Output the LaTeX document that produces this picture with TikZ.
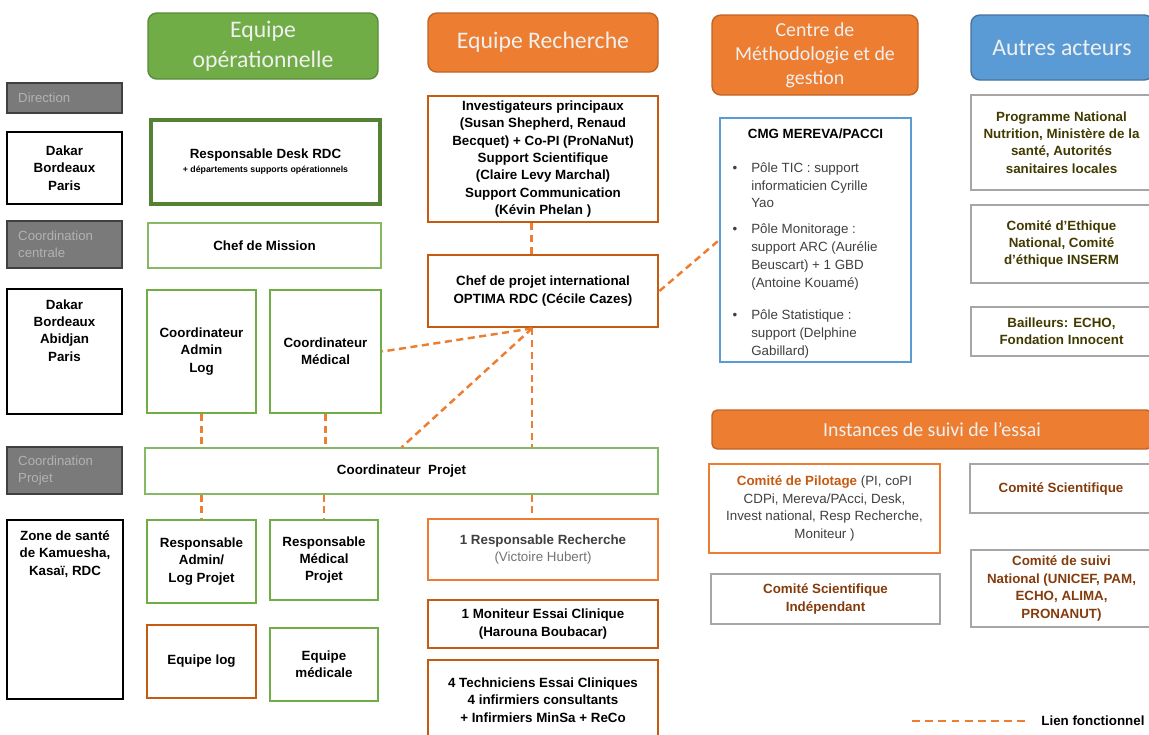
\documentclass[tikz,border=0pt]{standalone}
\usepackage{fontspec}
\setmainfont{Liberation Sans}
\newfontfamily\calibri{Carlito}
\usepackage{tikz}
\usetikzlibrary{calc}
\definecolor{vert}{HTML}{70AD47}
\definecolor{vertd}{HTML}{548235}
\definecolor{orng}{HTML}{ED7D31}
\definecolor{orngd}{HTML}{C55A11}
\definecolor{bleu}{HTML}{5B9BD5}
\definecolor{gris}{HTML}{A6A6A6}
\definecolor{texte}{HTML}{404040}
\definecolor{olv}{RGB}{66,58,0}
\definecolor{brun}{HTML}{843C0C}
\tikzset{
  body/.style   ={font=\fontsize{7.6}{9.9}\selectfont\bfseries,align=center,inner sep=2pt},
  plain/.style  ={font=\fontsize{7.6}{9.9}\selectfont,align=center,inner sep=2pt},
  hdr/.style    ={rounded corners=5pt,line width=0.8pt,text=white!94!black,align=center,
                  font=\calibri\fontsize{13.5}{17}\selectfont},
  grey/.style   ={draw=black!75,fill=black!52,text=black!30,line width=0.6pt,align=left,
                  font=\fontsize{7.5}{9.4}\selectfont,text width=1.85cm,inner xsep=0.225cm},
  site/.style   ={draw,line width=1.6pt,minimum width=2.3cm,body},
  opbox/.style  ={draw=vert,line width=1.4pt,body},
  opthin/.style ={draw=vert!85,line width=0.7pt,body},
  rbox/.style   ={draw=orngd,line width=1.6pt,minimum width=4.6cm,body},
  actbox/.style ={draw=gris,line width=1.6pt,minimum width=3.62cm,body,text=olv},
  comite/.style ={draw=gris,line width=1.3pt,body,text=brun},
  lien/.style   ={draw=orng,line width=1.4pt,dash pattern=on 4pt off 2.6pt},
}
\begin{document}
\begin{tikzpicture}
  \path[use as bounding box,fill=white] (0,0) rectangle (22.98,-14.68);
  % en-tetes
  \node[hdr,fill=vert,draw=vert!80!black,minimum width=4.6cm,minimum height=1.32cm] (hop) at (5.26,-0.92) {Equipe\\opérationnelle};
  \node[hdr,fill=orng,draw=orng!80!black,minimum width=4.6cm,minimum height=1.18cm] (hrech) at (10.86,-0.85) {Equipe Recherche};
  \node[hdr,fill=orng,draw=orng!80!black,minimum width=4.12cm,minimum height=1.6cm,
        font=\calibri\fontsize{11.3}{13.6}\selectfont] (hcmg) at (16.30,-1.10) {Centre de\\Méthodologie et de\\gestion};
  \node[hdr,fill=bleu,draw=bleu!75!black,minimum width=3.64cm,minimum height=1.3cm] (haut) at (21.24,-0.95) {Autres acteurs};
  \node[hdr,fill=orng,draw=orng!80!black,rounded corners=3pt,minimum width=8.8cm,minimum height=0.78cm,
        font=\calibri\fontsize{11.3}{13}\selectfont] (hinst) at (18.64,-8.59) {Instances de suivi de l’essai};

  % niveaux
  \node[grey,minimum height=0.6cm] (dir) at (1.29,-1.96) {Direction};
  \node[site,minimum height=1.44cm] (loc1) at (1.29,-3.36) {Dakar\\Bordeaux\\Paris};
  \node[grey,minimum height=0.94cm] (cc) at (1.29,-4.89) {Coordination\\centrale};
  \node[site,minimum height=2.5cm] (loc2) at (1.29,-7.03) {};
  \node[body,anchor=north] (loc2t) at ([yshift=-0.16cm]loc2.north) {Dakar\\Bordeaux\\Abidjan\\Paris};
  \node[grey,minimum height=0.94cm] (cp) at (1.29,-9.41) {Coordination\\Projet};
  \node[site,minimum width=2.32cm,minimum height=3.58cm] (loc3) at (1.30,-12.19) {};
  \node[body,anchor=north] (loc3t) at ([yshift=-0.16cm]loc3.north) {Zone de santé\\de Kamuesha,\\Kasaï, RDC};

  % equipe operationnelle
  \node[opbox,draw=vertd,line width=1.8pt,minimum width=4.58cm,minimum height=1.68cm] (desk) at (5.31,-3.24)
       {Responsable Desk RDC\\[-2pt]{\fontsize{5}{6}\selectfont + départements supports opérationnels}};
  \node[opthin,minimum width=4.66cm,minimum height=0.9cm] (chefm) at (5.29,-4.91) {Chef de Mission};
  \node[opbox,minimum width=2.18cm,minimum height=2.46cm] (coadm) at (4.03,-7.03) {Coordinateur\\Admin\\Log};
  \node[opbox,minimum width=2.22cm,minimum height=2.46cm] (comed) at (6.51,-7.03) {Coordinateur\\Médical};
  \node[opthin,minimum width=10.26cm,minimum height=0.92cm] (coproj) at (8.03,-9.42) {Coordinateur\ \ Projet};
  \node[opbox,minimum width=2.18cm,minimum height=1.66cm] (radm) at (4.03,-11.23) {Responsable\\Admin/\\Log Projet};
  \node[opbox,minimum width=2.16cm,minimum height=1.6cm] (rmed) at (6.48,-11.2) {Responsable\\Médical\\Projet};
  \node[opbox,draw=orngd,minimum width=2.18cm,minimum height=1.46cm] (elog) at (4.03,-13.23) {Equipe log};
  \node[opbox,minimum width=2.16cm,minimum height=1.46cm] (emed) at (6.48,-13.29) {Equipe\\médicale};

  % equipe recherche
  \node[rbox,minimum height=2.52cm] (inv) at (10.86,-3.18)
       {Investigateurs principaux\\(Susan Shepherd, Renaud\\Becquet) + Co-PI (ProNaNut)\\Support Scientifique\\(Claire Levy Marchal)\\Support Communication\\(Kévin Phelan )};
  \node[rbox,minimum height=1.44cm] (cdp) at (10.86,-5.82) {Chef de projet international\\OPTIMA RDC (Cécile Cazes)};
  \node[rbox,draw=orng,line width=0.8pt,text=texte,minimum height=1.22cm] (rrech) at (10.86,-10.99)
       {1 Responsable Recherche\\{\mdseries\color{black!55}(Victoire Hubert)}};
  \node[rbox,minimum height=0.96cm] (mon) at (10.86,-12.48) {1 Moniteur Essai Clinique\\(Harouna Boubacar)};
  \node[rbox,minimum height=1.6cm] (tech) at (10.86,-14.0) {4 Techniciens Essai Cliniques\\4 infirmiers consultants\\+ Infirmiers MinSa + ReCo};

  % CMG
  \node[draw=bleu,line width=0.9pt,minimum width=3.82cm,minimum height=4.88cm] (cmg) at (16.31,-4.80) {};
  \node[body,anchor=north] (cmgt) at ([yshift=-0.15cm]cmg.north) {CMG MEREVA/PACCI};
  \node[plain,text=texte,align=left,anchor=north west,inner sep=0pt] (cmgl) at ([xshift=0.26cm,yshift=-0.84cm]cmg.north west)
       {\fontsize{7.6}{10.2}\selectfont
        \begin{tabular}{@{}l@{\hspace{8pt}}l@{}}
        \textbullet & Pôle TIC : support\\
                    & informaticien Cyrille\\
                    & Yao\\[4.5pt]
        \textbullet & Pôle Monitorage :\\
                    & support ARC (Aurélie\\
                    & Beuscart) + 1 GBD\\
                    & (Antoine Kouamé)\\[8pt]
        \textbullet & Pôle Statistique :\\
                    & support (Delphine\\
                    & Gabillard)
        \end{tabular}};

  % autres acteurs
  \node[actbox,minimum height=1.9cm] (pnn) at (21.23,-2.85) {Programme National\\Nutrition, Ministère de la\\santé, Autorités\\sanitaires locales};
  \node[actbox,minimum height=1.56cm] (eth) at (21.23,-4.88) {Comité d'Ethique\\National, Comité\\d'éthique INSERM};
  \node[actbox,minimum height=0.98cm] (bail) at (21.23,-6.63) {Bailleurs: ECHO,\\Fondation Innocent};

  % instances
  \node[plain,draw=orng,line width=0.8pt,text=texte,minimum width=4.62cm,minimum height=1.78cm] (pil) at (16.49,-10.17)
       {{\bfseries\color{orngd}Comité de Pilotage} (PI, coPI\\CDPi, Mereva/PAcci, Desk,\\Invest national, Resp Recherche,\\Moniteur )};
  \node[comite,minimum width=3.64cm,minimum height=0.98cm] (csci) at (21.22,-9.77) {Comité Scientifique};
  \node[comite,minimum width=4.58cm,minimum height=1.0cm] (csi) at (16.51,-11.98) {Comité Scientifique\\Indépendant};
  \node[comite,minimum width=3.62cm,minimum height=1.54cm] (csuivi) at (21.23,-11.77) {Comité de suivi\\National (UNICEF, PAM,\\ECHO, ALIMA,\\PRONANUT)};

  % liens fonctionnels
  \coordinate (k) at ([xshift=-0.22cm]cdp.south);
  \draw[lien] ([xshift=-0.23cm]inv.south) -- ([xshift=-0.23cm]cdp.north);
  \draw[lien] (cdp.east) -- (cmg.west);
  \draw[lien] (k) -- (comed.east);
  \draw[lien] (k) -- (coproj.north);
  \draw[lien] (k) -- (k |- coproj.north);
  \draw[lien] (coadm.south) -- (coadm.south |- coproj.north);
  \draw[lien] (comed.south) -- (comed.south |- coproj.north);
  \draw[lien] (radm.north |- coproj.south) -- (radm.north);
  \draw[lien] (rmed.north |- coproj.south) -- (rmed.north);
  \draw[lien] (k |- coproj.south) -- (k |- rrech.north);

  % legende
  \coordinate (lg1) at (18.24,-14.42);
  \coordinate (lg2) at (20.6,-14.42);
  \draw[lien,line width=1.1pt,dash pattern=on 4.5pt off 3pt] (lg1) -- (lg2);
  \node[body,anchor=west] (lgt) at (20.75,-14.42) {Lien fonctionnel};
\end{tikzpicture}
\end{document}
